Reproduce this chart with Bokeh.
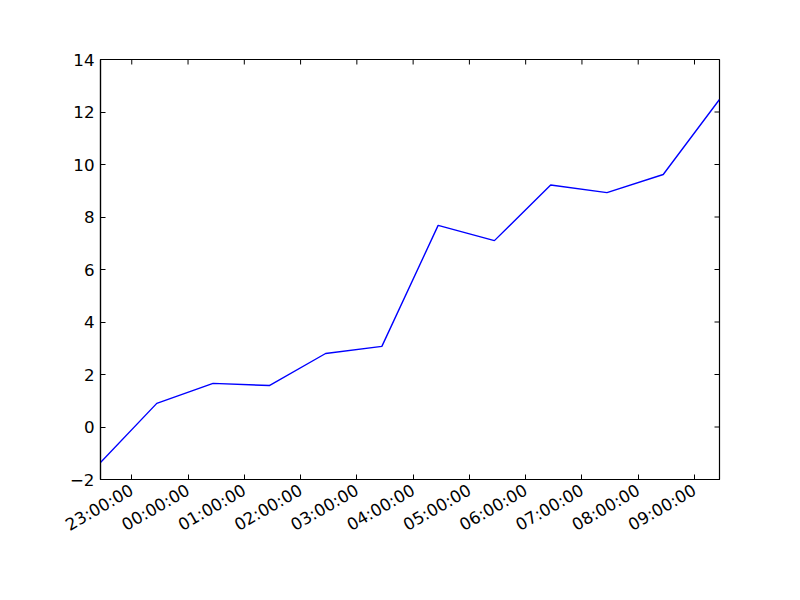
import math
from datetime import datetime
from bokeh.plotting import figure
from bokeh.models import Range1d, FixedTicker, DatetimeTickFormatter, CustomJSTickFormatter
from bokeh.embed import file_html
from bokeh.resources import INLINE

# ---- data ----
times = ["2013-01-01 22:26:40", "2013-01-01 23:26:40", "2013-01-02 00:26:40",
         "2013-01-02 01:26:40", "2013-01-02 02:26:40", "2013-01-02 03:26:40",
         "2013-01-02 04:26:40", "2013-01-02 05:26:40", "2013-01-02 06:26:40",
         "2013-01-02 07:26:40", "2013-01-02 08:26:40", "2013-01-02 09:26:40"]
values = [-1.35, 0.90, 1.66, 1.58, 2.80, 3.07, 7.68, 7.10, 9.22, 8.93, 9.62, 12.48]
tick_hours = ["2013-01-01 23:00:00", "2013-01-02 00:00:00", "2013-01-02 01:00:00",
              "2013-01-02 02:00:00", "2013-01-02 03:00:00", "2013-01-02 04:00:00",
              "2013-01-02 05:00:00", "2013-01-02 06:00:00", "2013-01-02 07:00:00",
              "2013-01-02 08:00:00", "2013-01-02 09:00:00"]
y_ticks = [-2, 0, 2, 4, 6, 8, 10, 12, 14]

fmt = "%Y-%m-%d %H:%M:%S"
xs = [datetime.strptime(t, fmt) for t in times]
epoch = datetime(1970, 1, 1)
def ms(d):
    return (d - epoch).total_seconds() * 1000.0
tick_ms = [ms(datetime.strptime(t, fmt)) for t in tick_hours]
x0, x1 = ms(xs[0]), ms(xs[-1])

FONT = "DejaVu Sans"
FS = "16.7px"
TICK = 5

p = figure(width=792, height=592, x_axis_type="datetime",
           output_backend="svg", toolbar_location=None,
           x_range=Range1d(x0, x1),
           y_range=Range1d(y_ticks[0], y_ticks[-1]),
           min_border_left=100, min_border_right=73,
           min_border_top=59, min_border_bottom=113)
p.frame_width = 619
p.frame_height = 420
p.background_fill_color = "white"
p.border_fill_color = "white"
p.outline_line_color = "black"
p.outline_line_width = 1.2
p.xgrid.visible = False
p.ygrid.visible = False

p.line(xs, values, line_color="#0000ff", line_width=1.4)

# mirrored inward ticks on the top and right edges
p.ray(x=tick_ms, y=[y_ticks[-1]] * len(tick_ms), length=TICK, length_units="screen",
      angle=-math.pi / 2, line_color="black", line_width=1)
p.ray(x=[x1] * len(y_ticks), y=y_ticks, length=TICK, length_units="screen",
      angle=math.pi, line_color="black", line_width=1)

def style(ax):
    ax.axis_line_color = "black"
    ax.axis_line_width = 1.2
    ax.major_tick_in = TICK
    ax.major_tick_out = 0
    ax.minor_tick_in = 0
    ax.minor_tick_out = 0
    ax.major_tick_line_color = "black"
    ax.major_label_text_font = FONT
    ax.major_label_text_font_size = FS
    ax.major_label_text_color = "black"

xa = p.xaxis[0]
xa.ticker = FixedTicker(ticks=tick_ms)
xa.formatter = DatetimeTickFormatter(hours="%H:%M:%S", days="%H:%M:%S",
                                     hourmin="%H:%M:%S", minutes="%H:%M:%S")
xa.major_label_orientation = math.pi / 6
xa.major_label_standoff = 9
style(xa)

ya = p.yaxis[0]
ya.ticker = FixedTicker(ticks=y_ticks)
ya.formatter = CustomJSTickFormatter(
    code="return tick < 0 ? '\\u2212' + Math.abs(tick) : String(tick);")
ya.major_label_standoff = 6
style(ya)

open("out.html", "w").write(file_html(p, INLINE))
